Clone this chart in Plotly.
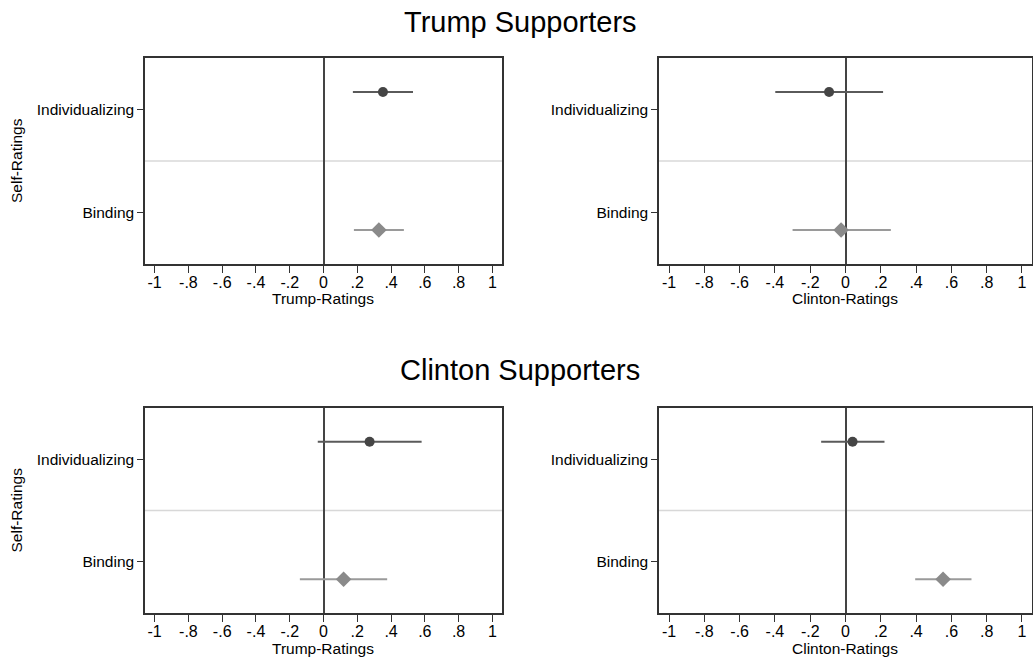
import plotly.graph_objects as go

W, H = 1033, 657

categories = ["Binding", "Individualizing"]
panel_titles = ["Trump Supporters", "Clinton Supporters"]
x_titles = ["Trump-Ratings", "Clinton-Ratings", "Trump-Ratings", "Clinton-Ratings"]
tick_vals = [-1, -0.8, -0.6, -0.4, -0.2, 0, 0.2, 0.4, 0.6, 0.8, 1]
tick_text = ["-1", "-.8", "-.6", "-.4", "-.2", "0", ".2", ".4", ".6", ".8", "1"]

# panels: TL (Trump sup., Trump ratings), TR (Trump sup., Clinton ratings),
#         BL (Clinton sup., Trump ratings), BR (Clinton sup., Clinton ratings)
indiv_est = [0.352, -0.093, 0.273, 0.040]
indiv_lo = [0.174, -0.398, -0.034, -0.138]
indiv_hi = [0.530, 0.213, 0.581, 0.221]
bind_est = [0.328, -0.025, 0.119, 0.553]
bind_lo = [0.180, -0.300, -0.140, 0.395]
bind_hi = [0.476, 0.257, 0.377, 0.714]

offset = 0.17
FONT = "Liberation Sans, Arial, Helvetica, sans-serif"

# pixel boxes (left, right, top, bottom)
boxes = [(145, 502, 58, 264), (659, 1032, 58, 264),
         (145, 502, 408, 613), (659, 1032, 408, 613)]

fig = go.Figure()
layout = dict(width=W, height=H, margin=dict(l=0, r=0, t=0, b=0),
              paper_bgcolor="white", plot_bgcolor="white", showlegend=False,
              font=dict(family=FONT, color="black", size=15.5))
annotations = []
shapes = []

for i, (l, r, t, b) in enumerate(boxes):
    n = "" if i == 0 else str(i + 1)
    xa, ya = "x" + n, "y" + n
    layout["xaxis" + n] = dict(
        domain=[l / W, r / W], anchor=ya, range=[-1.057, 1.057],
        tickvals=tick_vals, ticktext=tick_text, ticks="outside", ticklen=7,
        tickwidth=1.2, tickcolor="#333", showgrid=False, ticklabelstandoff=-4,
        showline=True, linecolor="#333", linewidth=1.5, mirror=True,
        zeroline=True, zerolinecolor="#444", zerolinewidth=1.8,
        tickfont=dict(size=16, family=FONT), fixedrange=True)
    layout["yaxis" + n] = dict(
        domain=[1 - b / H, 1 - t / H], anchor=xa, range=[0.5, 2.5],
        tickvals=[1, 2], ticktext=categories, ticks="outside", ticklen=6,
        tickwidth=1.2, tickcolor="#333", showgrid=False, zeroline=False,
        showline=True, linecolor="#333", linewidth=1.5, mirror=True,
        tickfont=dict(size=15.5, family=FONT), fixedrange=True)
    shapes.append(dict(type="line", xref=xa + " domain", yref=ya,
                       x0=0, x1=1, y0=1.5, y1=1.5, layer="below",
                       line=dict(color="#d8d8d8", width=1.5)))
    fig.add_trace(go.Scatter(
        x=[indiv_est[i]], y=[2 + offset], xaxis=xa, yaxis=ya, mode="markers",
        marker=dict(symbol="circle", size=10, color="#454545"),
        error_x=dict(type="data", symmetric=False,
                     array=[indiv_hi[i] - indiv_est[i]],
                     arrayminus=[indiv_est[i] - indiv_lo[i]],
                     width=0, thickness=2, color="#5a5a5a")))
    fig.add_trace(go.Scatter(
        x=[bind_est[i]], y=[1 - offset], xaxis=xa, yaxis=ya, mode="markers",
        marker=dict(symbol="diamond", size=12, color="#8a8a8a"),
        error_x=dict(type="data", symmetric=False,
                     array=[bind_hi[i] - bind_est[i]],
                     arrayminus=[bind_est[i] - bind_lo[i]],
                     width=0, thickness=2, color="#9a9a9a")))
    annotations.append(dict(text=x_titles[i], xref="paper", yref="paper",
                            x=((l + r) / 2 - 0.5) / W, y=1 - (b + 35) / H,
                            xanchor="center", yanchor="middle", showarrow=False,
                            font=dict(size=15.5, family=FONT)))
    if i in (0, 2):
        annotations.append(dict(text="Self-Ratings", xref="paper", yref="paper",
                                x=16 / W, y=1 - ((t + b) / 2) / H, textangle=-90,
                                xanchor="center", yanchor="middle", showarrow=False,
                                font=dict(size=15.5, family=FONT)))

for txt, ypx in zip(panel_titles, [22, 370]):
    annotations.append(dict(text=txt, xref="paper", yref="paper", x=520 / W,
                            y=1 - ypx / H, xanchor="center", yanchor="middle",
                            showarrow=False, font=dict(size=29, family=FONT)))

layout["annotations"] = annotations
layout["shapes"] = shapes
fig.update_layout(**layout)
fig.write_html("out.html", config={"displayModeBar": False},
               post_script="document.body.style.margin='0';"
                           "document.body.style.overflow='hidden';")
